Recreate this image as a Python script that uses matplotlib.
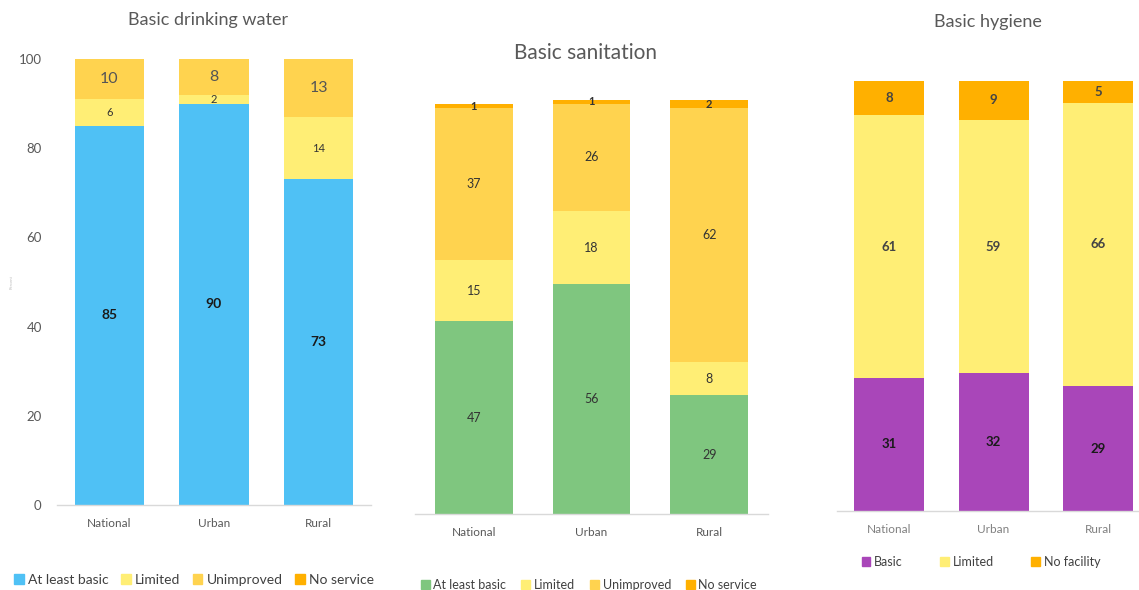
import matplotlib
matplotlib.use("Agg")
import matplotlib.pyplot as plt
from matplotlib.patches import Patch

plt.rcParams['font.family'] = ['Lato', 'DejaVu Sans']

areas = ["National", "Urban", "Rural"]

water_basic = [85, 90, 73]
water_limited = [6, 2, 14]
water_unimproved = [10, 8, 13]
water_legend = ["At least basic", "Limited", "Unimproved", "No service"]

san_basic = [47, 56, 29]
san_limited = [15, 18, 8]
san_unimproved = [37, 26, 62]
san_none = [1, 1, 2]
san_legend = ["At least basic", "Limited", "Unimproved", "No service"]

hyg_basic = [31, 32, 29]
hyg_limited = [61, 59, 66]
hyg_none = [8, 9, 5]
hyg_legend = ["Basic", "Limited", "No facility"]

BLUE = "#4FC1F5"
GREEN = "#7FC67F"
PURPLE = "#A946B9"
LIMITED = "#FFEE75"
UNIMP = "#FFD34F"
NONE = "#FFB000"
GREY = "#595959"

W, H = 1139, 590
fig = plt.figure(figsize=(W / 100, H / 100), dpi=100)


def px_axes(left, right, base, top):
    return fig.add_axes([left / W, (H - base) / H, (right - left) / W, (base - top) / H])


def stack(ax, series, colors, width, label_fmts):
    bottom = [0, 0, 0]
    x = range(len(areas))
    for vals, col, fmt in zip(series, colors, label_fmts):
        bars = ax.bar(x, vals, width, bottom=bottom, color=col, edgecolor="none")
        if fmt is not None:
            ax.bar_label(bars, label_type="center", **fmt)
        bottom = [b + v for b, v in zip(bottom, vals)]


def style(ax, xlim, ylim, show_y=False, xlabel_color=GREY):
    ax.set_xlim(*xlim)
    ax.set_ylim(*ylim)
    for s in ["top", "right", "left"]:
        ax.spines[s].set_visible(False)
    ax.spines["bottom"].set_color("#D9D9D9")
    ax.spines["bottom"].set_linewidth(1.0)
    ax.set_xticks(range(len(areas)))
    ax.set_xticklabels(areas, fontsize=8.5, color=xlabel_color)
    ax.tick_params(axis="x", length=0, pad=9.5)
    if show_y:
        ax.set_yticks(range(0, 101, 20))
        ax.tick_params(axis="y", length=0, pad=11, labelsize=9.5, labelcolor=GREY)
    else:
        ax.set_yticks([])


# drinking water
ax1 = px_axes(57, 371, 505, 59)
stack(ax1, [water_basic, water_limited, water_unimproved],
      [BLUE, LIMITED, UNIMP], 0.66,
      [dict(fontsize=10, fontweight="bold", color="#1a1a1a"),
       dict(fontsize=8, color="#333333"),
       dict(fontsize=11.5, color="#555555")])
style(ax1, (-0.5, 2.5), (0, 100), show_y=True)
ax1.set_ylabel("Percent", fontsize=3, color="#BBBBBB", labelpad=4)
fig.text(208 / W, 1 - 20 / H, "Basic drinking water", ha="center", va="center",
         fontsize=13, color=GREY)
fig.legend(handles=[Patch(color=c) for c in [BLUE, LIMITED, UNIMP, NONE]],
           labels=water_legend, loc="center", bbox_to_anchor=(194 / W, 1 - 580 / H),
           ncol=4, frameon=False, fontsize=10, handlelength=0.7, handleheight=0.7,
           handletextpad=0.3, columnspacing=0.9, labelcolor="#404040")

# sanitation
ax2 = px_axes(415, 768, 514, 514 - 102 * 4.1)
lab2 = dict(fontsize=9, color="#333333")
stack(ax2, [san_basic, san_limited, san_unimproved, san_none],
      [GREEN, LIMITED, UNIMP, NONE], 0.66,
      [lab2, lab2, lab2, dict(fontsize=8, color="#333333", fontweight="bold")])
style(ax2, (-0.5, 2.5), (0, 102))
fig.text(585 / W, 1 - 53 / H, "Basic sanitation", ha="center", va="center",
         fontsize=15, color=GREY)
fig.legend(handles=[Patch(color=c) for c in [GREEN, LIMITED, UNIMP, NONE]],
           labels=san_legend, loc="center", bbox_to_anchor=(589 / W, 1 - 585 / H),
           ncol=4, frameon=False, fontsize=9, handlelength=0.7, handleheight=0.7,
           handletextpad=0.3, columnspacing=1.2, labelcolor="#404040")

# hygiene
ax3 = px_axes(836.75, 1140, 511, 81)
lab3 = dict(fontsize=9.5, color="#1a1a1a", fontweight="bold")
stack(ax3, [hyg_basic, hyg_limited, hyg_none], [PURPLE, LIMITED, NONE], 0.67,
      [lab3, dict(fontsize=9.5, color="#444444", fontweight="bold"),
       dict(fontsize=9.5, color="#444444", fontweight="bold")])
style(ax3, (-0.5, 2.4), (0, 100), xlabel_color="#808080")
fig.text(988 / W, 1 - 22 / H, "Basic hygiene", ha="center", va="center",
         fontsize=13, color=GREY)
fig.legend(handles=[Patch(color=c) for c in [PURPLE, LIMITED, NONE]],
           labels=hyg_legend, loc="center", bbox_to_anchor=(981 / W, 1 - 562 / H),
           ncol=3, frameon=False, fontsize=9, handlelength=0.7, handleheight=0.7,
           handletextpad=0.3, columnspacing=3.0, labelcolor="#404040")

fig.savefig("out.png", dpi=100)
